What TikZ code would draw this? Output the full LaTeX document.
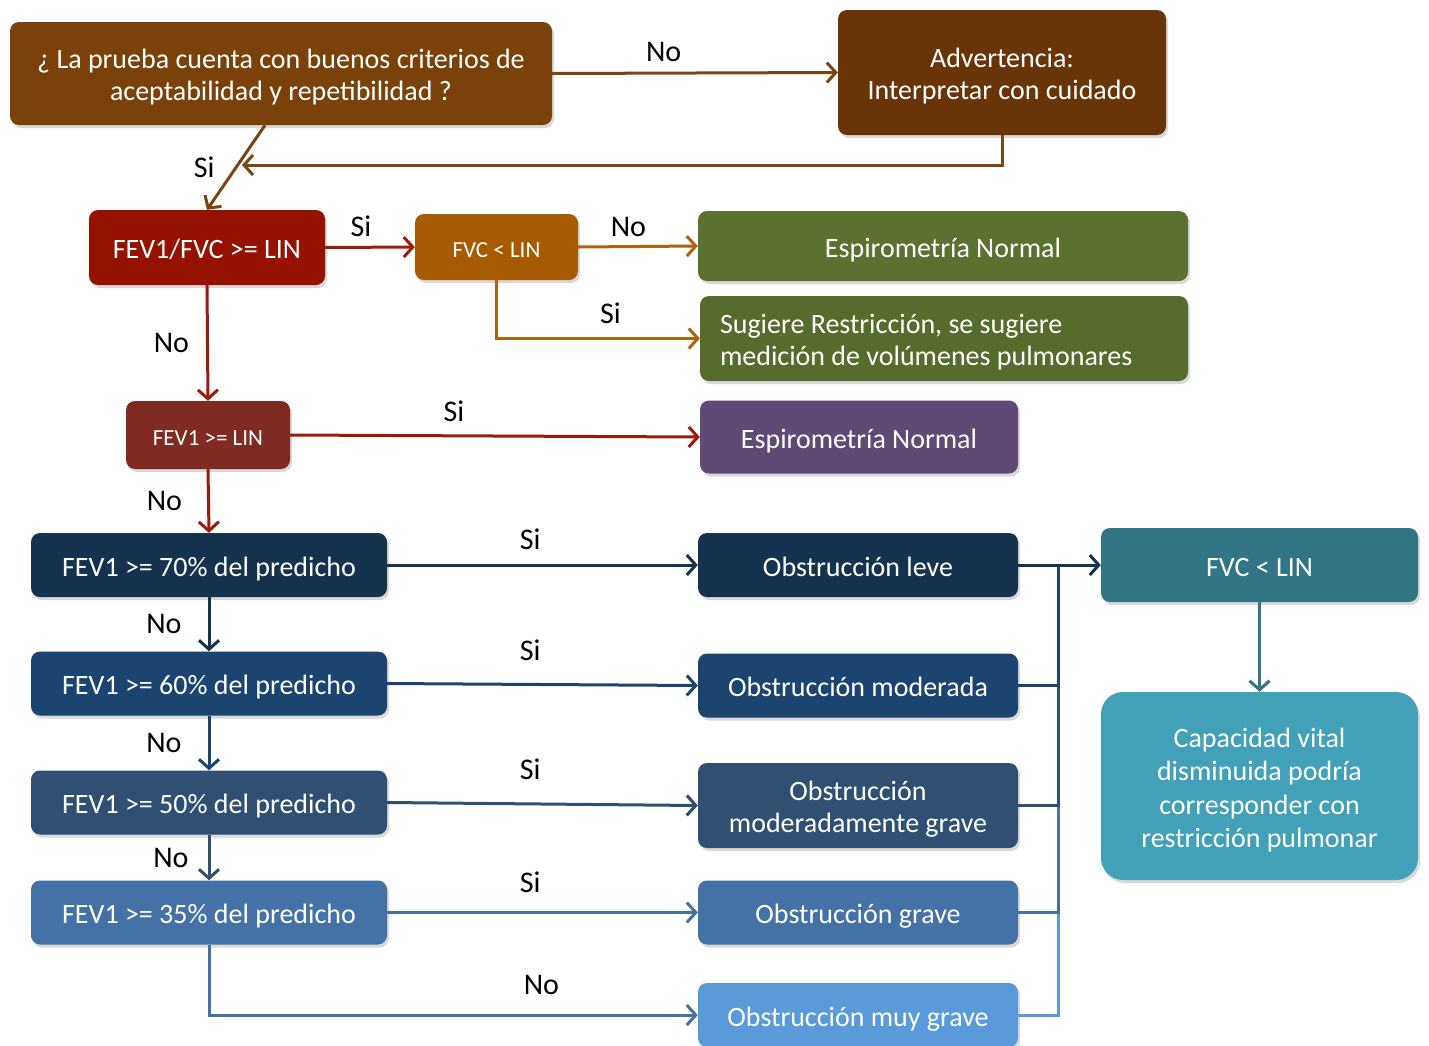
\documentclass[tikz,border=0pt]{standalone}
\usepackage{fontspec}
\setmainfont{Carlito}
\usetikzlibrary{arrows.meta,shadows}

\definecolor{qbrown}{HTML}{7A420A}
\definecolor{advbrown}{HTML}{6A3409}
\definecolor{brownline}{HTML}{7A4511}
\definecolor{ratiored}{HTML}{951200}
\definecolor{redline}{HTML}{9C1A0A}
\definecolor{fvcorange}{HTML}{A65B02}
\definecolor{orangeline}{HTML}{B0620F}
\definecolor{normgreen}{HTML}{5C7030}
\definecolor{restgreen}{HTML}{576B2C}
\definecolor{fevred}{HTML}{7F2B22}
\definecolor{normpurple}{HTML}{5E4A75}
\definecolor{navyA}{HTML}{15324F}
\definecolor{navyB}{HTML}{1C4471}
\definecolor{navyC}{HTML}{2F4F73}
\definecolor{navyD}{HTML}{4572A6}
\definecolor{skyE}{HTML}{5A9AD8}
\definecolor{tealA}{HTML}{327585}
\definecolor{tealB}{HTML}{42A0B8}

% box text, set a little low like the slides do
\newcommand{\boxtext}[2][c]{\raisebox{-5pt}[\height][\depth]{\begin{tabular}{@{}#1@{}}#2\end{tabular}}}

\begin{document}
\begin{tikzpicture}[x=1pt, y=-1pt,
    box/.style={rectangle, rounded corners=9pt, text=white, inner sep=4pt,
        font=\fontsize{28}{32}\selectfont,
        drop shadow={shadow xshift=2pt, shadow yshift=-3pt, opacity=0.3}},
    smallbox/.style={font=\fontsize{23}{28}\selectfont},
    lbl/.style={text=black, font=\fontsize{30}{34}\selectfont, inner sep=2pt},
    arr/.style={line width=3pt, -{Straight Barb[length=9pt, width=20pt]}},
    seg/.style={line width=3pt}]

    \useasboundingbox (0, 0) rectangle (1429, 1045);

    % top of the chart
    \node (q) at (281, 73.5) [box, fill=qbrown, minimum width=542pt, minimum height=103pt] {\boxtext{¿ La prueba cuenta con buenos criterios de\\aceptabilidad y repetibilidad ?}};
    \node (adv) at (1002, 72.5) [box, fill=advbrown, minimum width=328pt, minimum height=125pt] {\boxtext{Advertencia:\\Interpretar con cuidado}};
    \node (ratio) at (207, 247.5) [box, fill=ratiored, minimum width=236pt, minimum height=75pt] {\boxtext{FEV1/FVC >= LIN}};
    \node (fvcA) at (496.5, 247) [box, smallbox, fill=fvcorange, minimum width=163pt, minimum height=66pt] {\boxtext{FVC < LIN}};
    \node (normA) at (943, 246) [box, fill=normgreen, minimum width=490pt, minimum height=70pt] {\boxtext{Espirometría Normal}};
    \node (restr) at (944, 338.5) [box, fill=restgreen, minimum width=488pt, minimum height=85pt] {\boxtext[p{448pt}]{Sugiere Restricción, se sugiere\\medición de volúmenes pulmonares}};
    \node (fevA) at (208, 435) [box, smallbox, fill=fevred, minimum width=164pt, minimum height=68pt] {\boxtext{FEV1 >= LIN}};
    \node (normB) at (859, 437) [box, fill=normpurple, minimum width=318pt, minimum height=73pt] {\boxtext{Espirometría Normal}};

    % grades
    \node (p70) at (209, 565) [box, fill=navyA, minimum width=356pt, minimum height=64pt] {\boxtext{FEV1 >= 70\% del predicho}};
    \node (p60) at (209, 683.5) [box, fill=navyB, minimum width=356pt, minimum height=64pt] {\boxtext{FEV1 >= 60\% del predicho}};
    \node (p50) at (209, 802.5) [box, fill=navyC, minimum width=356pt, minimum height=64pt] {\boxtext{FEV1 >= 50\% del predicho}};
    \node (p35) at (209, 912.5) [box, fill=navyD, minimum width=356pt, minimum height=64pt] {\boxtext{FEV1 >= 35\% del predicho}};
    \node (leve) at (858, 565) [box, fill=navyA, minimum width=320pt, minimum height=64pt] {\boxtext{Obstrucción leve}};
    \node (mod) at (858, 685.5) [box, fill=navyB, minimum width=320pt, minimum height=64pt] {\boxtext{Obstrucción moderada}};
    \node (modg) at (858, 805.5) [box, fill=navyC, minimum width=320pt, minimum height=85pt] {\boxtext{Obstrucción\\moderadamente grave}};
    \node (grave) at (858, 912.5) [box, fill=navyD, minimum width=320pt, minimum height=64pt] {\boxtext{Obstrucción grave}};
    \node (muyg) at (858, 1015) [box, fill=skyE, minimum width=320pt, minimum height=64pt] {\boxtext{Obstrucción muy grave}};
    \node (fvcB) at (1259.5, 565) [box, fill=tealA, minimum width=317pt, minimum height=74pt] {\boxtext{FVC < LIN}};
    \node (cap) at (1259.5, 786) [box, fill=tealB, minimum width=317pt, minimum height=188pt, rounded corners=22pt, font=\fontsize{28}{33.5}\selectfont] {\boxtext{Capacidad vital\\disminuida podría\\corresponder con\\restricción pulmonar}};

    \coordinate (join) at (242, 165);
    \coordinate (bus) at (1058, 565);

    \draw [arr, brownline] (q.east) -- node [lbl, above=8pt, pos=0.39] (no1) {No} (adv.west);
    \draw [arr, brownline] (adv.south) |- (join);
    \draw [arr, brownline] ([xshift=-16pt]q.south) -- node [lbl, left=18pt] (si1) {Si} (ratio.north);
    \draw [arr, redline] (ratio.east) -- node [lbl, above=7pt, pos=0.4] (si2) {Si} (fvcA.west);
    \draw [arr, orangeline] (fvcA.east) -- node [lbl, above=6pt, pos=0.42] (no2) {No} (normA.west);
    \draw [arr, orangeline] (fvcA.south) |- node [lbl, above=11pt, pos=0.78] (si3) {Si} (restr.west);
    \draw [arr, redline] (ratio.south) -- node [lbl, left=15pt] (no3) {No} (fevA.north);
    \draw [arr, redline] (fevA.east) -- node [lbl, above=11pt, pos=0.4] (si4) {Si} (normB.west);
    \draw [arr, redline] (fevA.south) -- node [lbl, left=23pt] (no4) {No} (p70.north);

    \draw [arr, navyA] (p70.east) -- node [lbl, above=12pt, pos=0.46] (si5) {Si} (leve.west);
    \draw [arr, navyA] (p70.south) -- node [lbl, left=24pt] (no5) {No} (p60.north);
    \draw [arr, navyB] (p60.east) -- node [lbl, above=20pt, pos=0.46] (si6) {Si} (mod.west);
    \draw [arr, navyB] (p60.south) -- node [lbl, left=24pt] (no6) {No} (p50.north);
    \draw [arr, navyC] (p50.east) -- node [lbl, above=21pt, pos=0.46] (si7) {Si} (modg.west);
    \draw [arr, navyC] (p50.south) -- node [lbl, left=17pt] (no7) {No} (p35.north);
    \draw [arr, navyD] (p35.east) -- node [lbl, above=16pt, pos=0.46] (si8) {Si} (grave.west);
    \draw [arr, navyD] (p35.south) |- node [lbl, above=17pt, pos=0.84] (no8) {No} (muyg.west);

    % collector to FVC < LIN
    \draw [seg, skyE] (muyg.east) -| (bus);
    \draw [seg, navyD] (grave.east) -| (bus);
    \draw [seg, navyC] (modg.east) -| (bus);
    \draw [seg, navyB] (mod.east) -| (bus);
    \draw [arr, navyA] (leve.east) -- (fvcB.west);
    \draw [arr, tealA] (fvcB.south) -- (cap.north);
\end{tikzpicture}
\end{document}
